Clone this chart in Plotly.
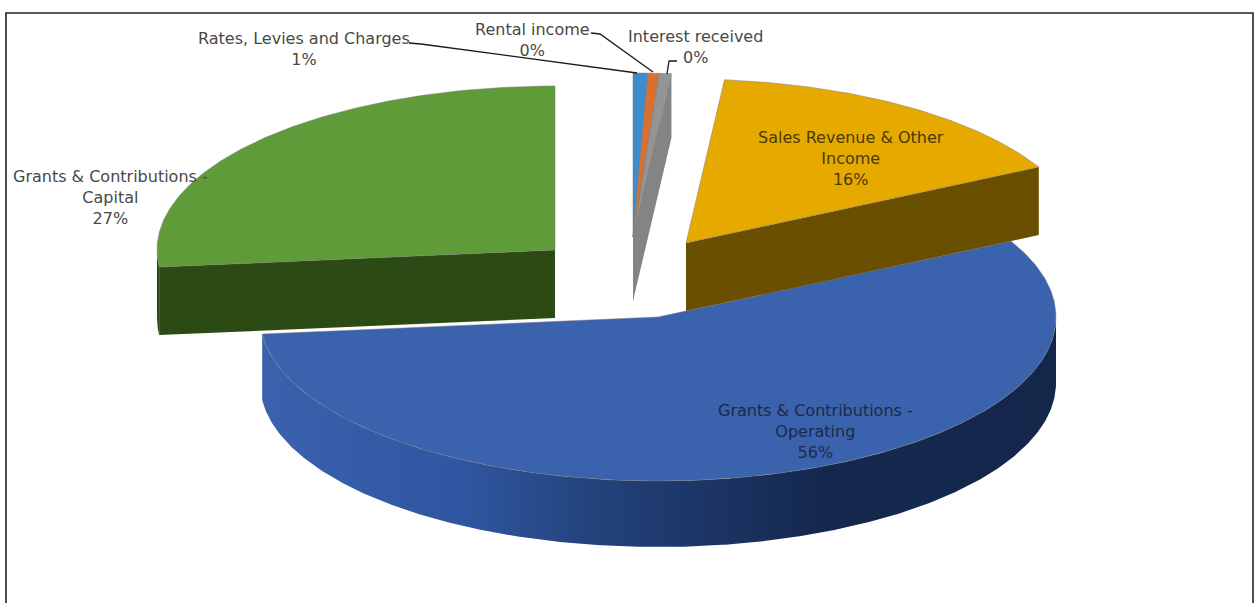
import numpy as np
import plotly.graph_objects as go

# Income shares in percent, clockwise from twelve o'clock
categories = ["Rates, Levies and Charges", "Rental income", "Interest received",
              "Sales Revenue & Other Income", "Grants & Contributions - Operating",
              "Grants & Contributions - Capital"]
shares = [0.60, 0.45, 0.49, 15.80, 56.00, 26.66]

# Label text wrapped the way it is set on the chart
wrapped = ["Rates, Levies and Charges", "Rental income", "Interest received",
           "Sales Revenue &amp; Other<br>Income", "Grants &amp; Contributions -<br>Operating",
           "Grants &amp; Contributions -<br>Capital"]

# Drawing geometry of the tilted disc
RX, RY = 398, 164
depth = [64, 64, 64, 68, 66, 68]
apex = [(633, 237), (633, 237), (633, 237), (686, 243), (658, 317), (555, 250)]
top_color = ["#3f8ccb", "#d9702f", "#949494", "#e6a900", "#3a62ad", "#5f9b38"]
wall_color = ["#3a6f9e", "#b07a55", "#848484", "#6b4f00", None, "#2b4a14"]
# Shading of the operating slice's wall, left to right across the disc
operating_wall = [[0.0, "#3a62ad"], [0.25, "#2f56a0"], [0.4, "#24457f"], [0.52, "#1d386c"],
                  [0.7, "#15294f"], [1.0, "#14264a"]]
label_pos = [(304, 49), (532, 40), (695, 47), (851, 158), (815, 431), (110, 197)]
label_color = ["#484848", "#484848", "#484848", "#4a3a08", "#1c2a48", "#484848"]
leaders = [
    ([409, 421, 637], [43, 44, 73]),
    ([591, 600, 653], [33, 34, 72]),
    ([677, 669, 667], [61, 61, 74]),
]


def rim(ax, ay, t0, t1, drop=0.0):
    """Points of the outer edge between two clockwise angles, in degrees."""
    t = np.radians(np.linspace(t0, t1, max(int(abs(t1 - t0) * 2), 2)))
    return ax + RX * np.sin(t), ay - RY * np.cos(t) + drop


def add_polygon(fig, xs, ys, color=None, scale=None, edge=None):
    trace = dict(x=xs, y=ys, mode="lines", fill="toself", hoverinfo="skip", showlegend=False)
    if scale:
        trace["fillgradient"] = dict(type="horizontal", colorscale=scale)
    else:
        trace["fillcolor"] = color
    trace["line"] = dict(color=edge, width=1) if edge else dict(width=0)
    fig.add_trace(go.Scatter(**trace))


fig = go.Figure()

edges = np.concatenate([[0], np.cumsum(shares)]) * 3.6
# Back-to-front: largest slice first, the capital and sales slices over it, thin slices last
for i in [4, 5, 3, 0, 1, 2]:
    ax, ay = apex[i]
    d = depth[i]
    t0, t1 = edges[i], edges[i + 1]

    # Front part of the outer wall
    a, b = max(t0, 90.0), min(t1, 270.0)
    if a < b:
        ux, uy = rim(ax, ay, a, b)
        lx, ly = rim(ax, ay, a, b, d)
        add_polygon(fig, np.concatenate([ux, lx[::-1]]), np.concatenate([uy, ly[::-1]]),
                    color=wall_color[i], scale=None if wall_color[i] else operating_wall)

    # Cut faces that turn towards the viewer
    for t, visible in ((t1, t1 < 180), (t0, t0 > 180)):
        if visible:
            px = float(ax + RX * np.sin(np.radians(t)))
            py = float(ay - RY * np.cos(np.radians(t)))
            add_polygon(fig, [ax, px, px, ax], [ay, py, py + d, ay + d], color=wall_color[i])

    # Top face
    rx0, ry0 = rim(ax, ay, t0, t1)
    add_polygon(fig, np.concatenate([[ax], rx0, [ax]]), np.concatenate([[ay], ry0, [ay]]),
                color=top_color[i], edge="rgba(125,125,125,0.5)")

# Leader lines of the three thin slices
for lx, ly in leaders:
    fig.add_trace(go.Scatter(x=lx, y=ly, mode="lines", hoverinfo="skip", showlegend=False,
                             line=dict(color="#1a1a1a", width=1.3)))

for name, value, (lx, ly), col in zip(wrapped, shares, label_pos, label_color):
    fig.add_annotation(x=lx, y=ly, xref="x", yref="y", showarrow=False, align="center",
                       text=f"{name}<br>{round(value)}%",
                       font=dict(family="DejaVu Sans", size=16, color=col))

# Chart frame, open at the bottom where the page cuts it off
fig.add_shape(type="path", path="M 6 603 L 6 13 L 1253 13 L 1253 603", xref="x", yref="y",
              line=dict(color="#222222", width=1.6))

fig.update_layout(
    width=1255, height=603, margin=dict(l=0, r=0, t=0, b=0),
    paper_bgcolor="white", plot_bgcolor="white", showlegend=False,
    xaxis=dict(range=[0, 1255], visible=False, fixedrange=True),
    yaxis=dict(range=[603, 0], visible=False, fixedrange=True),
)

fig.write_html("out.html", config={"displayModeBar": False})
